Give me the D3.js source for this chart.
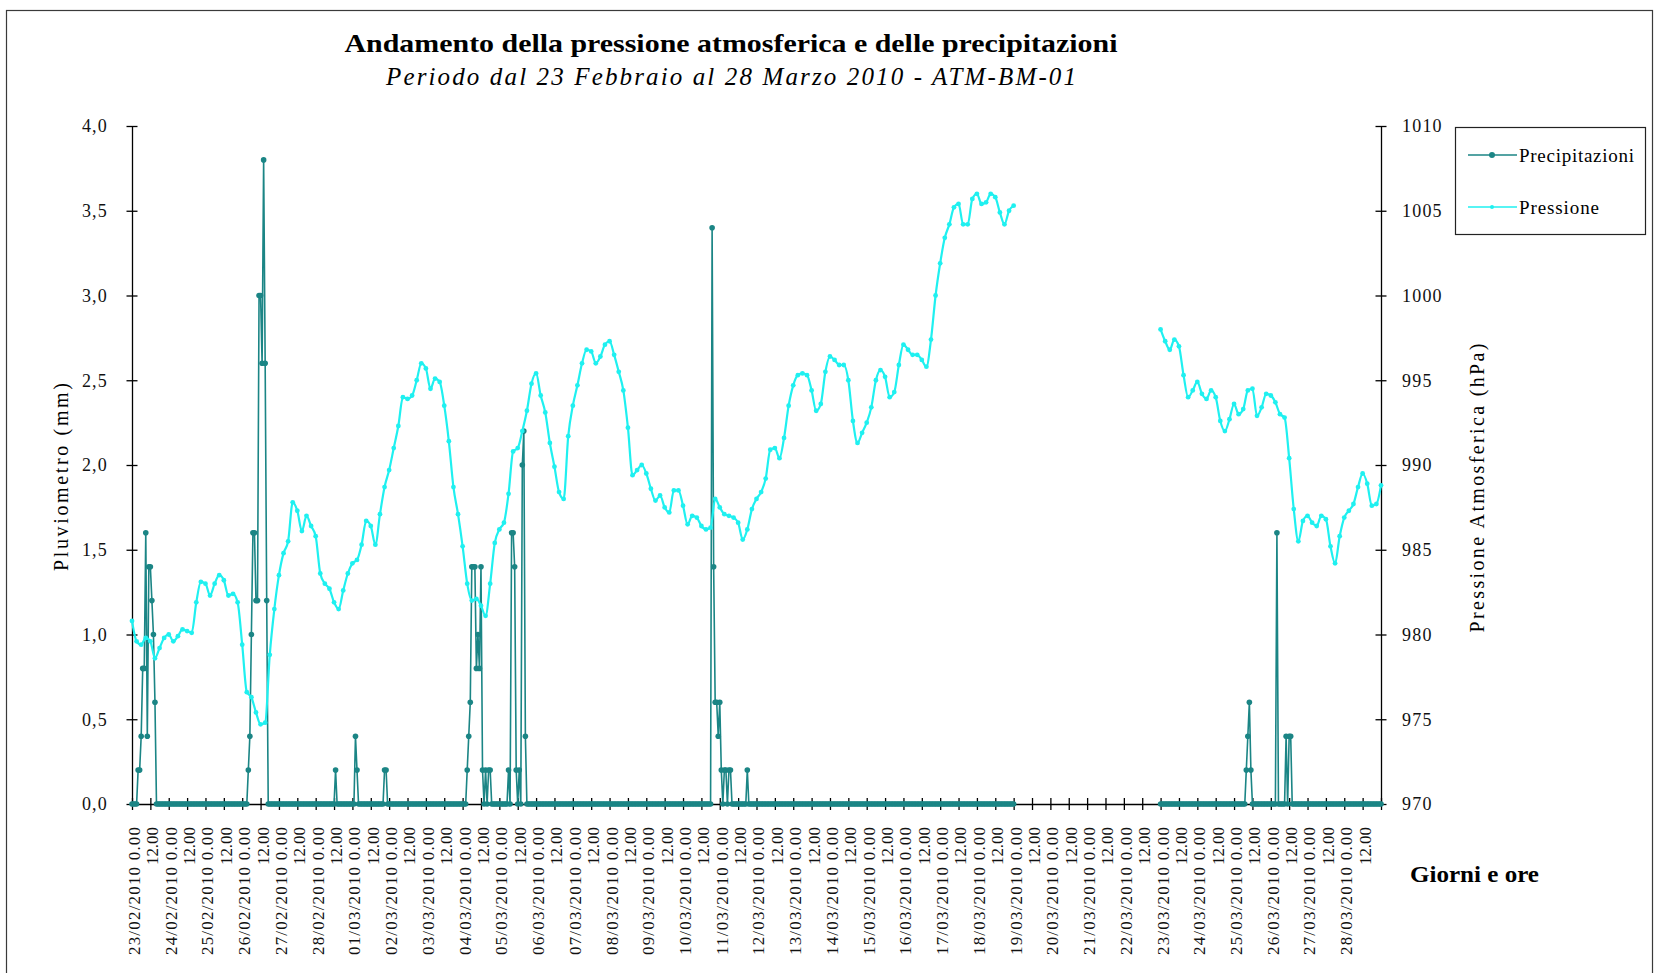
<!DOCTYPE html>
<html><head><meta charset="utf-8">
<script src="https://cdn.jsdelivr.net/npm/d3@7"></script>
<style>
body{margin:0;background:#fff;}
svg{display:block;font-family:"Liberation Serif","Times New Roman",serif;}
</style>
</head><body>
<svg id="c" width="1657" height="973"></svg>
<script>
// ---------------- DATA ----------------
const titleText = "Andamento della pressione atmosferica e delle precipitazioni";
const subtitleText = "Periodo dal 23 Febbraio al 28 Marzo 2010 - ATM-BM-01";
const seriesNames = ["Precipitazioni", "Pressione"];
const leftAxisTitle = "Pluviometro (mm)";
const rightAxisTitle = "Pressione Atmosferica (hPa)";
const xAxisTitle = "Giorni e ore";

const axisStart = "2010-02-23T00:00:00Z";
const axisEnd = "2010-03-29T00:00:00Z";

// x tick labels: one date per day (0.00) and "12.00" in between
const dayLabels = ["23/02/2010","24/02/2010","25/02/2010","26/02/2010","27/02/2010","28/02/2010",
  "01/03/2010","02/03/2010","03/03/2010","04/03/2010","05/03/2010","06/03/2010","07/03/2010",
  "08/03/2010","09/03/2010","10/03/2010","11/03/2010","12/03/2010","13/03/2010","14/03/2010",
  "15/03/2010","16/03/2010","17/03/2010","18/03/2010","19/03/2010","20/03/2010","21/03/2010",
  "22/03/2010","23/03/2010","24/03/2010","25/03/2010","26/03/2010","27/03/2010","28/03/2010"];
const midnightSuffix = " 0.00";
const noonLabel = "12.00";

const leftTickValues = [0, 0.5, 1, 1.5, 2, 2.5, 3, 3.5, 4];
const leftTickLabels = ["0,0","0,5","1,0","1,5","2,0","2,5","3,0","3,5","4,0"];
const rightTickValues = [970, 975, 980, 985, 990, 995, 1000, 1005, 1010];

// Pressure (hPa), one reading every 3 hours
const pressureStepHours = 3;
const pressureSeg1Start = "2010-02-23T00:00:00Z";
const pressureSeg1 = [
  980.8, 979.6, 979.4, 979.8, 979.6, 978.6, 979.2, 979.8,
  980.0, 979.6, 979.9, 980.3, 980.2, 980.1, 981.9, 983.1,
  983.0, 982.3, 983.0, 983.5, 983.2, 982.3, 982.4, 981.9,
  979.4, 976.6, 976.3, 975.4, 974.7, 974.8, 978.8, 981.5,
  983.5, 984.8, 985.5, 987.8, 987.3, 986.1, 987.0, 986.4,
  985.8, 983.6, 983.0, 982.7, 981.9, 981.5, 982.6, 983.6,
  984.2, 984.4, 985.3, 986.7, 986.4, 985.3, 987.1, 988.7,
  989.7, 991.0, 992.3, 994.0, 993.9, 994.1, 995.0, 996.0,
  995.7, 994.5, 995.1, 994.9, 993.5, 991.4, 988.7, 987.1,
  985.2, 983.0, 982.0, 982.1, 981.7, 981.1, 983.0, 985.4,
  986.2, 986.6, 988.3, 990.8, 991.0, 992.0, 993.2, 994.8,
  995.4, 994.1, 993.1, 991.3, 989.9, 988.4, 988.0, 991.7,
  993.5, 994.7, 996.0, 996.8, 996.7, 996.0, 996.4, 997.1,
  997.3, 996.5, 995.5, 994.4, 992.2, 989.4, 989.7, 990.0,
  989.5, 988.6, 987.9, 988.2, 987.5, 987.2, 988.5, 988.5,
  987.6, 986.5, 987.0, 986.9, 986.4, 986.2, 986.3, 988.0,
  987.5, 987.1, 987.0, 986.9, 986.6, 985.6, 986.2, 987.4,
  988.0, 988.4, 989.2, 990.9, 991.0, 990.4, 991.6, 993.5,
  994.7, 995.3, 995.4, 995.3, 994.4, 993.2, 993.6, 995.5,
  996.4, 996.2, 995.9, 995.9, 995.0, 992.6, 991.3, 991.9,
  992.5, 993.4, 995.0, 995.6, 995.2, 994.0, 994.3, 995.9,
  997.1, 996.8, 996.5, 996.5, 996.2, 995.8, 997.4, 1000.0,
  1001.9, 1003.4, 1004.2, 1005.2, 1005.4, 1004.2, 1004.2, 1005.7,
  1006.0, 1005.4, 1005.5, 1006.0, 1005.8, 1004.9, 1004.2, 1005.0,
  1005.3
];
const pressureSeg2Start = "2010-03-23T00:00:00Z";
const pressureSeg2 = [
  998.0, 997.3, 996.8, 997.4, 997.0, 995.3, 994.0, 994.4,
  994.9, 994.2, 993.9, 994.4, 994.0, 992.6, 992.0, 992.7,
  993.6, 993.0, 993.3, 994.4, 994.5, 992.9, 993.4, 994.2,
  994.1, 993.7, 993.0, 992.8, 990.4, 987.4, 985.5, 986.7,
  987.0, 986.6, 986.4, 987.0, 986.8, 985.2, 984.2, 985.8,
  986.9, 987.3, 987.7, 988.7, 989.5, 988.9, 987.6, 987.7,
  988.8
];

// Precipitation (mm), hourly readings; recorded periods, with rain events
// given as [hours from 23/02 0.00, mm]; every other hour of a recorded period read 0,0
const precipPeriods = [["2010-02-23T00:00:00Z","2010-03-19T00:00:00Z"],
                       ["2010-03-23T00:00:00Z","2010-03-29T00:00:00Z"]];
const precipEvents = [
  [4,0.2],[5,0.2],[6,0.4],[7,0.8],[8,0.8],[9,1.6],[10,0.4],[11,1.4],[12,1.4],[13,1.2],[14,1.0],[15,0.6],
  [76,0.2],[77,0.4],[78,1.0],[79,1.6],[80,1.6],[81,1.2],[82,1.2],[83,3.0],[84,3.0],[85,2.6],[86,3.8],[87,2.6],[88,1.2],
  [133,0.2],[146,0.4],[147,0.2],[165,0.2],[166,0.2],
  [219,0.2],[220,0.4],[221,0.6],[222,1.4],[223,1.4],[224,1.4],[225,0.8],[226,1.0],[227,0.8],[228,1.4],[229,0.2],
  [231,0.2],[233,0.2],[234,0.2],
  [246,0.2],[248,1.6],[249,1.6],[250,1.4],[251,0.2],[253,0.2],[255,2.0],[256,2.2],[257,0.4],
  [379,3.4],[380,1.4],[381,0.6],[382,0.6],[383,0.4],[384,0.6],[385,0.2],[387,0.2],[388,0.2],[390,0.2],[391,0.2],[402,0.2],
  [728,0.2],[729,0.4],[730,0.6],[731,0.2],[748,1.6],[754,0.4],[756,0.4],[757,0.4]
];

// ---------------- DRAWING ----------------
const HOUR = 3600e3;
const FONT = '"Liberation Serif","Times New Roman",serif';
const precipColor = "#1b8585";
const pressColor = "#1ff0f0";

const svg = d3.select("#c");
const t0 = new Date(axisStart), t1 = new Date(axisEnd);
const x = d3.scaleUtc().domain([t0, t1]).range([132, 1381]);
const yL = d3.scaleLinear().domain([0, 4]).range([804, 126]);
const yR = d3.scaleLinear().domain([970, 1010]).range([804, 126]);

// chart frame
svg.append("rect").attr("x", 6.5).attr("y", 10.5).attr("width", 1646).attr("height", 980)
  .attr("fill", "#fff").attr("stroke", "#3a3a3a").attr("stroke-width", 1.2);

// titles
svg.append("text").attr("x", 731).attr("y", 52).attr("text-anchor", "middle")
  .attr("font-size", 26).attr("font-weight", "bold").attr("textLength", 773)
  .attr("lengthAdjust", "spacingAndGlyphs").text(titleText);
svg.append("text").attr("x", 731).attr("y", 85).attr("text-anchor", "middle")
  .attr("font-size", 25).attr("font-style", "italic").attr("textLength", 690)
  .attr("lengthAdjust", "spacing").text(subtitleText);

// axes
const gL = svg.append("g").attr("transform", "translate(132,0)")
  .call(d3.axisLeft(yL).tickValues(leftTickValues).tickFormat((d, i) => leftTickLabels[i])
    .tickSizeInner(5.5).tickSizeOuter(0).tickPadding(18.5));
const gR = svg.append("g").attr("transform", "translate(1381,0)")
  .call(d3.axisRight(yR).tickValues(rightTickValues).tickFormat(d => String(d))
    .tickSizeInner(5.5).tickSizeOuter(0).tickPadding(15.5));
[gL, gR].forEach(g => {
  g.attr("font-family", FONT).attr("font-size", 18);
  g.select(".domain").attr("stroke", "#000").attr("stroke-width", 1.3);
  g.selectAll(".tick line").attr("x1", 5.5).attr("x2", -5.5).attr("stroke", "#000").attr("stroke-width", 1.3);
  g.selectAll(".tick text").attr("fill", "#111").attr("letter-spacing", 1.2);
});

const xTicks = d3.utcHour.every(12).range(t0, new Date(+t1 + 1));
const xLabel = d => {
  const hrs = Math.round((d - t0) / HOUR);
  if (+d >= +t1) return "";
  return (hrs % 24 === 0) ? dayLabels[hrs / 24] + midnightSuffix : noonLabel;
};
const gX = svg.append("g").attr("transform", "translate(0,804)")
  .call(d3.axisBottom(x).tickValues(xTicks).tickFormat(xLabel).tickSizeInner(6).tickSizeOuter(0));
gX.attr("font-family", FONT).attr("font-size", 17);
gX.select(".domain").attr("stroke", "#000").attr("stroke-width", 1.3);
gX.selectAll(".tick line").attr("y1", -6).attr("y2", 6).attr("stroke", "#000").attr("stroke-width", 1.3);
gX.selectAll(".tick text")
  .attr("transform", "rotate(-90)")
  .attr("text-anchor", "end")
  .attr("x", -23).attr("y", 1.5).attr("dy", "0.35em")
  .attr("fill", "#111")
  .each(function(d) {
    const s = xLabel(d);
    if (s) d3.select(this).attr("textLength", s.length > 6 ? 128 : 38).attr("lengthAdjust", "spacing");
  });

// precipitation series (hourly)
const evMap = new Map(precipEvents.map(e => [e[0], e[1]]));
const precipSegs = precipPeriods.map(([a, b]) =>
  d3.utcHour.range(new Date(a), new Date(+new Date(b) + 1)).map(t => {
    const h = Math.round((t - t0) / HOUR);
    return { t, v: evMap.has(h) ? evMap.get(h) : 0 };
  }));
const lineP = d3.line().x(d => x(d.t)).y(d => yL(d.v));
const gP = svg.append("g");
precipSegs.forEach(seg => {
  gP.append("path").attr("d", lineP(seg)).attr("fill", "none")
    .attr("stroke", precipColor).attr("stroke-width", 1.6).attr("stroke-linejoin", "round");
  gP.selectAll(null).data(seg).join("circle")
    .attr("cx", d => x(d.t)).attr("cy", d => yL(d.v)).attr("r", 2.8).attr("fill", precipColor);
});

// pressure series (3-hourly)
const toSeries = (startIso, arr) => arr.map((v, i) => ({ t: new Date(+new Date(startIso) + i * pressureStepHours * HOUR), v }));
const pressSegs = [toSeries(pressureSeg1Start, pressureSeg1), toSeries(pressureSeg2Start, pressureSeg2)];
const lineR = d3.line().x(d => x(d.t)).y(d => yR(d.v)).curve(d3.curveMonotoneX);
const gQ = svg.append("g");
pressSegs.forEach(seg => {
  gQ.append("path").attr("d", lineR(seg)).attr("fill", "none")
    .attr("stroke", pressColor).attr("stroke-width", 2.2).attr("stroke-linejoin", "round");
  gQ.selectAll(null).data(seg).join("circle")
    .attr("cx", d => x(d.t)).attr("cy", d => yR(d.v)).attr("r", 2.4).attr("fill", pressColor);
});

// axis titles
svg.append("text").attr("transform", "translate(61,477) rotate(-90)").attr("text-anchor", "middle")
  .attr("dy", "0.35em").attr("font-size", 20).attr("textLength", 188).attr("lengthAdjust", "spacing")
  .text(leftAxisTitle);
svg.append("text").attr("transform", "translate(1477,488) rotate(-90)").attr("text-anchor", "middle")
  .attr("dy", "0.35em").attr("font-size", 20).attr("textLength", 289).attr("lengthAdjust", "spacing")
  .text(rightAxisTitle);
svg.append("text").attr("x", 1410).attr("y", 882).attr("font-size", 24).attr("font-weight", "bold")
  .attr("textLength", 129).attr("lengthAdjust", "spacingAndGlyphs").text(xAxisTitle);

// legend
const lg = svg.append("g");
lg.append("rect").attr("x", 1455.5).attr("y", 127.5).attr("width", 190).attr("height", 107)
  .attr("fill", "#fff").attr("stroke", "#222").attr("stroke-width", 1.2);
const legendItems = [
  { name: seriesNames[0], color: precipColor, r: 3, y: 155, len: 115 },
  { name: seriesNames[1], color: pressColor, r: 2, y: 207, len: 80 }
];
legendItems.forEach(it => {
  lg.append("line").attr("x1", 1468).attr("x2", 1517).attr("y1", it.y).attr("y2", it.y)
    .attr("stroke", it.color).attr("stroke-width", 1.6);
  lg.append("circle").attr("cx", 1492).attr("cy", it.y).attr("r", it.r).attr("fill", it.color);
  lg.append("text").attr("x", 1519).attr("y", it.y).attr("dy", "0.35em").attr("font-size", 19)
    .attr("textLength", it.len).attr("lengthAdjust", "spacing").text(it.name);
});
</script>
</body></html>
